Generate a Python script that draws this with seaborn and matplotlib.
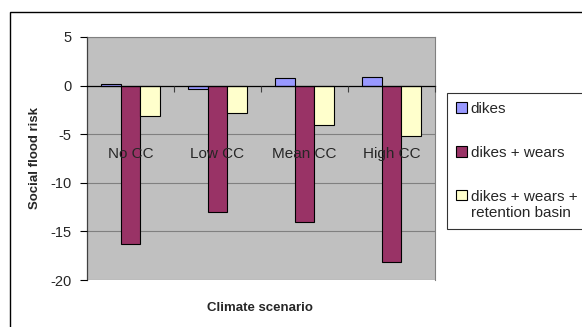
import matplotlib
matplotlib.use("Agg")
import matplotlib.pyplot as plt
import seaborn as sns
import pandas as pd
from matplotlib.patches import Rectangle

categories = ["No CC", "Low CC", "Mean CC", "High CC"]
series_names = ["dikes", "dikes + wears", "dikes + wears +\nretention basin"]
dikes = [0.2, -0.3, 0.8, 0.9]
dikes_wears = [-16.3, -13.0, -14.0, -18.1]
dikes_wears_basin = [-3.1, -2.8, -4.1, -5.2]
colors = ["#9999FF", "#993366", "#FFFFCC"]

rows = []
for name, vals in zip(series_names, [dikes, dikes_wears, dikes_wears_basin]):
    for c, v in zip(categories, vals):
        rows.append({"scenario": c, "series": name, "value": v})
df = pd.DataFrame(rows)

sns.set_theme(style="white")
plt.rcParams["font.family"] = ["Liberation Sans", "DejaVu Sans"]

fig = plt.figure(figsize=(5.82, 3.27), dpi=100)
ax = fig.add_axes([87/582, 1 - 280/327, 348/582, 243/327])

sns.barplot(data=df, x="scenario", y="value", hue="series", palette=colors,
            width=0.667, edgecolor="black", linewidth=0.8, ax=ax,
            errorbar=None, saturation=1)

ax.set_facecolor("#C0C0C0")
ax.set_ylim(-20, 5)
ax.set_xlim(-0.5, 3.5)
ax.set_yticks([5, 0, -5, -10, -15, -20])
ax.set_yticklabels(["5", "0", "-5", "-10", "-15", "-20"], fontsize=10.5)
for y in [5, -5, -10, -15, -20]:
    ax.axhline(y, color="#808080", lw=0.8, zorder=0)
ax.set_axisbelow(False)

# spines
ax.spines["bottom"].set_position(("data", 0))
ax.spines["bottom"].set_color("black")
ax.spines["bottom"].set_linewidth(0.9)
ax.spines["left"].set_color("#404040")
ax.spines["left"].set_linewidth(0.9)
for s in ["top", "right"]:
    ax.spines[s].set_color("#808080")
    ax.spines[s].set_linewidth(0.8)

ax.tick_params(axis="y", direction="out", length=5, width=0.8, color="black",
               left=True, pad=6)
ax.set_xticks(range(len(categories)))
ax.set_xticklabels(categories, fontsize=11)
ax.tick_params(axis="x", which="major", length=0, pad=44, bottom=True)
ax.set_xticks([0.5, 1.5, 2.5, 3.5], minor=True)
ax.tick_params(axis="x", which="minor", direction="out", length=4, width=0.8,
               color="#404040", bottom=True)

ax.set_xlabel("")
ax.set_ylabel("")
fig.text(260/582, 1 - 308/327, "Climate scenario", ha="center", va="center",
         fontsize=9.5, fontweight="bold")
fig.text(35/582, 1 - 158/327, "Social flood risk", ha="center", va="center",
         fontsize=9.5, fontweight="bold", rotation=90)

handles, labels = ax.get_legend_handles_labels()
if ax.legend_:
    ax.legend_.remove()
leg = fig.legend(handles, labels, loc="upper left",
                 bbox_to_anchor=(447/582, 1 - 93/327),
                 fontsize=11, frameon=True, fancybox=False,
                 edgecolor="black", handlelength=0.7, handleheight=0.7,
                 handletextpad=0.25, labelspacing=1.95, borderpad=0.6,
                 borderaxespad=0)
leg.get_frame().set_linewidth(0.8)
for col in leg._legend_handle_box.get_children():
    for item in col.get_children():
        item.align = "top"

fig.patches.append(Rectangle((10/582, -0.1), 1.2, 1 - 12/327 + 0.1,
                             transform=fig.transFigure, fill=False,
                             edgecolor="black", lw=1.0))

fig.savefig("out.png", dpi=100)
